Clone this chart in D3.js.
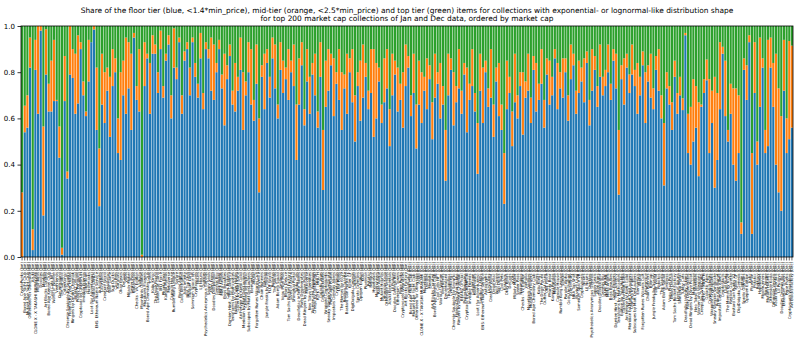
<!DOCTYPE html>
<html><head><meta charset="utf-8">
<script src="https://cdn.jsdelivr.net/npm/d3@7"></script>
<style>body{margin:0;background:#fff} text{font-family:"DejaVu Sans",sans-serif}</style>
</head><body><svg id="c" width="800" height="356"></svg>
<script>
const titleLines = [
  "Share of the floor tier (blue, <1.4*min_price), mid-tier (orange, <2.5*min_price) and top tier (green) items for collections with exponential- or lognormal-like distribution shape",
  "for top 200 market cap collections of Jan and Dec data, ordered by market cap"
];
const names = [
"CryptoPunks","Bored Ape Yacht Club","Mutant Ape Yacht Club","Otherdeed for Otherside","Azuki","CLONE X - X TAKASHI MURAKAMI","Moonbirds","Doodles","Meebits","Art Blocks Curated",
"Bored Ape Kennel Club","Cool Cats NFT","World of Women","VeeFriends","Decentraland","The Sandbox","CyberKongz","Chromie Squiggle by Snowfro","Fidenza by Tyler Hobbs","Ringers by Dmitri Cherniak",
"BEANZ Official","Pudgy Penguins","Cryptoadz by GREMPLIN","Invisible Friends","Goblintown","Hashmasks","Loot (for Adventurers)","Sandbox LANDs","ENS: Ethereum Name Service","Autoglyphs",
"Lazy Lions","Creature World","Deadfellaz","Wolf Game","Sup Ducks","Cool Pets","Karafuru","Okay Bears","DeGods","y00ts",
"Milady Maker","Sewer Pass","Nakamigos","Checks - VV Edition","Valhalla","Moonbirds Oddities","Murakami.Flowers","Bored Ape Chemistry Club","mfers","Kaiju Kingz",
"The Doge Pound","Gutter Cat Gang","0N1 Force","Phanta Bear","Kanpai Pandas","MekaVerse","Capsule House","Rumble Kong League","Sorare","Parallel Alpha",
"Gods Unchained","Axie Infinity","NBA Top Shot","Illuvium Land","Somnium Space VR","Cryptovoxels","Nouns","Lil Nouns","Quirkies","Psychedelics Anonymous Genesis",
"Sappy Seals","Alien Frens","Doodles Dooplicator","Genesis Box","HAPE PRIME","Meta Angels","Boss Beauties","Cyber Brokers","Damien Hirst - The Currency","Terraforms by Mathcastles",
"Edition by Tyler Hobbs","Gazers by Matt Kane","Archetype by Kjetil Golid","Meridian by Matt DesLauriers","Chimera by mpkoz","Subscapes by Matt DesLauriers","Elementals","Akutar","Forgotten Runes Wizards Cult","Anonymice",
"Chain Runners","Blitmap","Jungle Freaks by Trosley","FLUF World","Robotos","The Saudis","Adam Bomb Squad","Smilesss","Vogu Pixel Pals","Bears Deluxe",
"Tom Sachs Rocket Factory","Lives of Asuna","Shinsekai Portal","Tubby Cats","Deadfellaz Infinity Tokens","Party Degenerates","Dead Ringers by Dave Pollot","Metroverse","Neo Tokyo Identities","Women and Weapons",
"Creepz by OVERLORD","RTFKT - MNLTH","Galactic Apes","Cryptodickbutts","Wrapped Cryptopunks","Sneaky Vampire Syndicate","Prime Ape Planet","Impostors Genesis Aliens","CryptoSkulls","Lost Poets",
"The Memes by 6529","Redlion Gazette","Bastard Gan Punks V2","Killer GF","DigiDaigaku Genesis","Captainz","Sproto Gremlins","Opepen Edition","Kubz","Pixelmon",
"Potatoz","Rektguy","Hypebears","Moonrunners","Rare Apepe","Mutant Hounds","Otherside Koda","Otherside Vessels","Azuki Elementals","Lil Pudgys",
"Doodles Genesis Box","Ethereum Towers","Pepe Punks","Cryptovoxels Wearables","Art Blocks Factory","Art Blocks Playground","Friendship Bracelets by Alexis Andre","Curio Cards","Mooncats","Larva Labs Autoglyphs"
];
const months = ["Jan","Dec"];
// share of floor tier (blue)
const floorShare = [
0,0.54,0.56,0.82,0.03,0.81,0.62,0.98,0.18,0.79,
0.63,0.63,0.675,0.675,0.43,0.01,0.675,0.34,0.79,0.775,
0.62,0.665,0.90,0.70,0.61,0.76,0.93,0.985,0.55,0.22,
0.66,0.58,0.72,0.52,0.74,0.80,0.45,0.42,0.70,0.62,
0.73,0.55,0.95,0.68,0.63,0.00,0.74,0.86,0.62,0.88,
0.88,0.71,0.90,0.69,0.85,0.92,0.60,0.82,0.77,0.93,
0.62,0.85,0.90,0.70,0.93,0.78,0.69,0.86,0.64,0.90,
0.86,0.72,0.68,0.80,0.90,0.73,0.57,0.77,0.87,0.66,
0.63,0.72,0.81,0.55,0.70,0.80,0.66,0.59,0.75,0.28,
0.78,0.64,0.84,0.69,0.86,0.73,0.60,0.81,0.71,0.77,
0.68,0.80,0.74,0.42,0.66,0.83,0.57,0.76,0.62,0.79,
0.70,0.56,0.78,0.29,0.65,0.72,0.83,0.61,0.75,0.68,
0.55,0.73,0.62,0.80,0.67,0.50,0.74,0.59,0.69,0.78,
0.64,0.71,0.52,0.60,0.76,0.58,0.67,0.73,0.48,0.70,
0.79,0.63,0.68,0.56,0.74,0.82,0.61,0.71,0.47,0.66,
0.58,0.72,0.64,0.77,0.51,0.69,0.75,0.60,0.66,0.33,
0.70,0.81,0.57,0.67,0.73,0.62,0.79,0.54,0.68,0.74,
0.63,0.36,0.72,0.58,0.80,0.65,0.69,0.52,0.76,0.61,
0.55,0.23,0.64,0.71,0.48,0.67,0.60,0.74,0.53,0.69,
0.72,0.58,0.81,0.63,0.68,0.75,0.56,0.79,0.66,0.70,
0.86,0.64,0.73,0.69,0.80,0.59,0.77,0.83,0.62,0.71,
0.76,0.67,0.84,0.57,0.72,0.81,0.65,0.78,0.70,0.74,
0.80,0.68,0.85,0.73,0.27,0.77,0.66,0.82,0.71,0.79,
0.74,0.62,0.70,0.83,0.58,0.76,0.69,0.64,0.81,0.72,
0.60,0.31,0.73,0.66,0.55,0.78,0.62,0.70,
0.636,0.96,0.45,0.40,0.50,0.56,0.35,0.65,0.71,0.765,
0.45,0.58,0.30,0.42,0.64,0.88,0.61,0.50,0.62,0.40,
0.33,0.45,0.10,0.81,0.68,0.93,0.10,0.71,0.40,0.65,
0.82,0.45,0.48,0.82,0.65,0.40,0.28,0.20,0.72,0.45,
0.51,0.56
];
// cumulative share of floor + mid tier (top of the orange segment)
const floorMidShare = [
0.28,0.655,0.70,0.95,0.12,0.94,1.0,1.0,0.565,0.986,
0.75,0.85,0.94,0.68,0.565,0.04,0.87,0.37,1.0,0.90,
0.88,0.96,0.93,0.76,0.63,0.94,0.93,1.0,0.82,0.47,
0.88,0.80,0.82,0.78,0.90,0.86,0.60,0.80,0.85,0.95,
0.93,0.88,0.97,0.74,0.90,0.01,0.93,0.88,0.84,0.96,
0.92,0.80,0.98,0.74,0.88,0.96,0.70,0.99,0.82,0.95,
0.70,0.89,0.93,0.82,0.95,0.84,0.75,0.97,0.71,0.93,
0.90,0.95,0.92,0.84,0.94,0.79,0.88,0.83,0.92,0.72,
0.84,0.78,0.95,0.80,0.76,0.93,0.90,0.68,0.92,0.60,
0.83,0.88,0.90,0.78,0.95,0.92,0.66,0.93,0.85,0.82,
0.90,0.85,0.92,0.66,0.86,0.93,0.64,0.90,0.78,0.84,
0.88,0.63,0.93,0.55,0.85,0.90,0.88,0.86,0.80,0.90,
0.80,0.79,0.88,0.86,0.90,0.70,0.80,0.85,0.92,0.84,
0.72,0.90,0.90,0.84,0.82,0.66,0.86,0.90,0.64,0.88,
0.85,0.82,0.75,0.80,0.92,0.87,0.70,0.88,0.66,0.85,
0.80,0.78,0.86,0.83,0.67,0.88,0.80,0.84,0.74,0.55,
0.88,0.86,0.80,0.74,0.90,0.72,0.84,0.82,0.75,0.90,
0.71,0.58,0.88,0.82,0.85,0.73,0.90,0.66,0.82,0.84,
0.66,0.45,0.85,0.78,0.63,0.88,0.70,0.80,0.80,0.76,
0.88,0.69,0.87,0.84,0.75,0.90,0.68,0.86,0.85,0.78,
0.90,0.84,0.80,0.86,0.86,0.70,0.92,0.88,0.72,0.85,
0.82,0.86,0.89,0.68,0.90,0.87,0.74,0.92,0.78,0.81,
0.92,0.75,0.90,0.88,0.55,0.83,0.86,0.88,0.79,0.92,
0.81,0.84,0.78,0.89,0.80,0.83,0.88,0.73,0.87,0.90,
0.70,0.58,0.80,0.74,0.67,0.85,0.71,0.78,
0.687,0.97,0.62,0.65,0.77,0.74,0.67,0.66,0.77,0.855,
0.77,0.72,0.78,0.71,0.93,0.91,0.85,0.55,0.75,0.73,
0.73,0.70,0.15,0.86,0.83,0.96,0.45,0.93,0.50,0.95,
0.86,0.55,0.94,0.95,0.84,0.88,0.73,0.61,0.94,0.60,
0.935,0.915
];
const yTicks = [0,0.2,0.4,0.6,0.8,1.0];
const colors = {floor:"#1f77b4", mid:"#ff7f0e", top:"#2ca02c"};

const N = floorShare.length;
const half = Math.ceil(N/2);
const categories = d3.range(N).map(i => i < half ? `${names[i]} (${months[0]})` : `${names[i-half]} (${months[1]})`);
const rows = floorShare.map((b,i)=>({i, floor:b, mid:floorMidShare[i]-b, top:1-floorMidShare[i]}));
const series = d3.stack().keys(["floor","mid","top"])(rows);

const L=21, R=793, T=26, B=257;
const svg = d3.select("#c");
const x = d3.scaleBand().domain(d3.range(N)).range([L,R]).paddingInner(0.2).paddingOuter(0);
const y = d3.scaleLinear().domain([0,1]).range([B,T]);

svg.append("g").selectAll("g").data(series).join("g")
  .attr("fill", s => colors[s.key])
  .selectAll("rect").data(s => s).join("rect")
  .attr("x", d => x(d.data.i)).attr("width", x.bandwidth())
  .attr("y", d => y(d[1])).attr("height", d => Math.max(0, y(d[0]) - y(d[1])));

const ya = svg.append("g").attr("transform",`translate(${L},0)`)
  .call(d3.axisLeft(y).tickValues(yTicks).tickFormat(d3.format(".1f")).tickSize(3.5).tickPadding(2.5));
ya.select(".domain").remove();
ya.selectAll("text").attr("font-size","7px").attr("fill","#000");
ya.selectAll("line").attr("stroke","#000").attr("stroke-width",0.8);

const xa = svg.append("g").attr("transform",`translate(0,${B})`)
  .call(d3.axisBottom(x).tickFormat(i => categories[i]).tickSize(3.5));
xa.select(".domain").remove();
xa.selectAll("line").attr("stroke","#000").attr("stroke-width",0.6);
xa.selectAll("text").attr("font-size","3.8px").attr("fill","#000")
  .attr("transform","rotate(-90)").attr("text-anchor","end")
  .attr("x",-5).attr("y",0).attr("dy","0.35em");

svg.append("rect").attr("x",L).attr("y",T).attr("width",R-L).attr("height",B-T)
  .attr("fill","none").attr("stroke","#000").attr("stroke-width",0.8);

svg.append("g").selectAll("text").data(titleLines).join("text")
  .attr("x",(L+R)/2).attr("y",(d,i)=>12.5+i*8.8).attr("text-anchor","middle")
  .attr("font-size","7.45px").attr("fill","#000").text(d=>d);
</script></body></html>
